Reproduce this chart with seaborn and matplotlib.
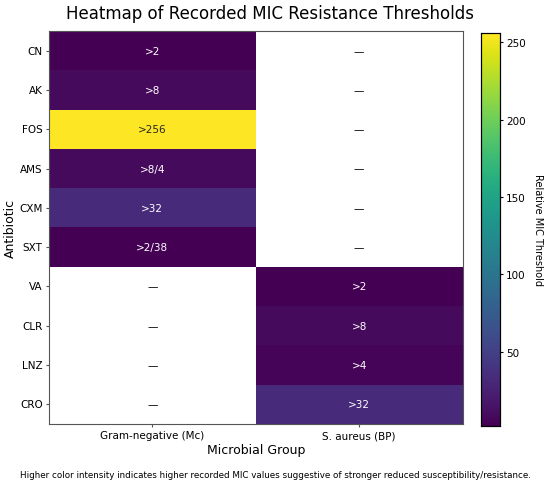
import numpy as np
import pandas as pd
import matplotlib
matplotlib.use("Agg")
import matplotlib.pyplot as plt
import seaborn as sns

antibiotics = ["CN", "AK", "FOS", "AMS", "CXM", "SXT", "VA", "CLR", "LNZ", "CRO"]
groups = ["Gram-negative (Mc)", "S. aureus (BP)"]
gram_neg = [2, 8, 256, 8, 32, 2, np.nan, np.nan, np.nan, np.nan]
s_aureus = [np.nan, np.nan, np.nan, np.nan, np.nan, np.nan, 2, 8, 4, 32]
gram_neg_lbl = [">2", ">8", ">256", ">8/4", ">32", ">2/38", "—", "—", "—", "—"]
s_aureus_lbl = ["—", "—", "—", "—", "—", "—", ">2", ">8", ">4", ">32"]

df = pd.DataFrame({groups[0]: gram_neg, groups[1]: s_aureus}, index=antibiotics)
labels = pd.DataFrame({groups[0]: gram_neg_lbl, groups[1]: s_aureus_lbl}, index=antibiotics)

fig = plt.figure(figsize=(5.5, 4.89), dpi=100)
ax = fig.add_axes([0.089, 0.1309, 0.752, 0.8037])
cax = fig.add_axes([0.8745, 0.1268, 0.0345, 0.8037])

sns.heatmap(df, cmap="viridis", vmin=2, vmax=256, annot=labels.values, fmt="",
            annot_kws={"fontsize": 7.5}, ax=ax, cbar_ax=cax,
            cbar_kws={"label": "Relative MIC Threshold"})

# dashes for missing cells
for i, ab in enumerate(antibiotics):
    for j, g in enumerate(groups):
        if np.isnan(df.loc[ab, g]):
            ax.text(j + 0.5, i + 0.5, labels.loc[ab, g], ha="center", va="center",
                    fontsize=7.5, color="black")

for s in ax.spines.values():
    s.set_visible(True)
    s.set_color("#555555")
    s.set_linewidth(0.8)
for s in cax.spines.values():
    s.set_visible(True)
    s.set_linewidth(0.8)

fig.text(0.491, 0.972, "Heatmap of Recorded MIC Resistance Thresholds", fontsize=12,
         ha="center", va="center")
ax.set_xlabel("Microbial Group", fontsize=9, labelpad=2)
ax.set_ylabel("Antibiotic", fontsize=9, labelpad=2)
ax.tick_params(axis="both", left=True, bottom=True, labelsize=7.5, length=2.5, width=0.8,
               pad=2, color="#555555")
plt.setp(ax.get_yticklabels(), rotation=0)
cax.tick_params(right=True, labelsize=7.5, length=2.5, width=0.8, pad=2)
cax.yaxis.label.set_size(7)
cax.yaxis.label.set_rotation(270)
cax.yaxis.labelpad = 12

fig.text(0.5, 0.022, "Higher color intensity indicates higher recorded MIC values suggestive of stronger reduced susceptibility/resistance.",
         ha="center", fontsize=6.3)

fig.savefig("out.png", dpi=100)
